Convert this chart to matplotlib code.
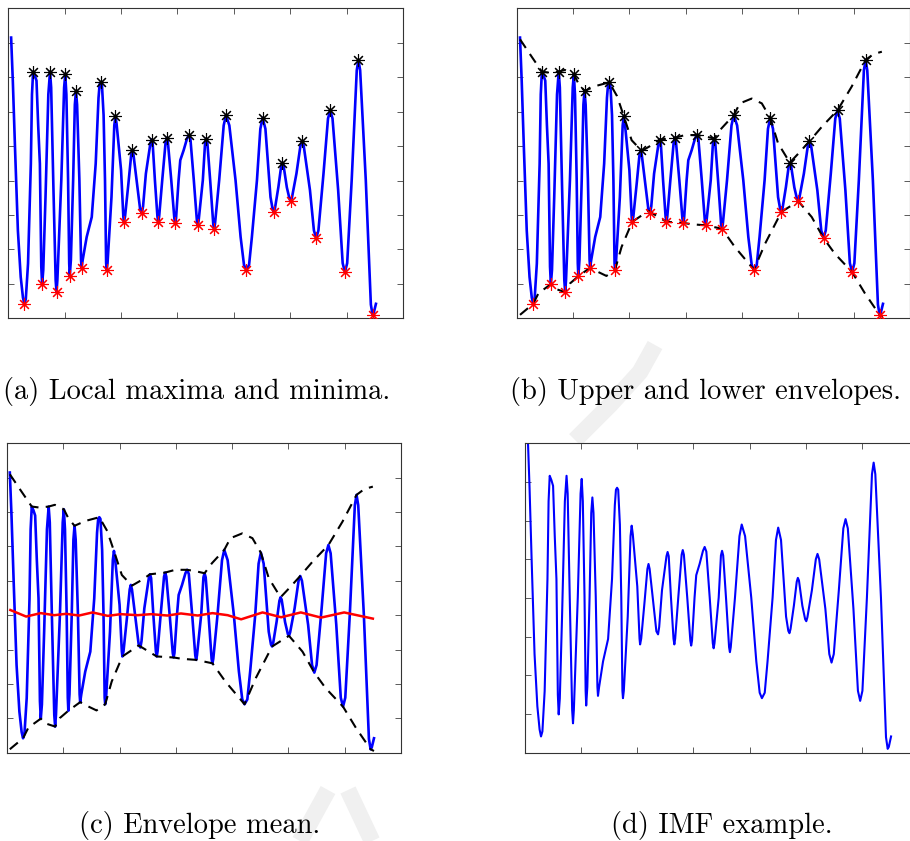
import matplotlib

matplotlib.use("Agg")
import matplotlib.pyplot as plt
from matplotlib.lines import Line2D

# signal samples (x, y)
sig_x = [0.05, 0.08, 0.12, 0.17, 0.22, 0.26, 0.285, 0.31, 0.35, 0.40, 0.42, 0.44, 0.47,
         0.50, 0.53, 0.56, 0.585, 0.60, 0.62, 0.66, 0.71, 0.74, 0.76, 0.80, 0.84, 0.855,
         0.87, 0.94, 0.99, 1.01, 1.03, 1.06, 1.08, 1.09, 1.11, 1.15, 1.18, 1.20, 1.22,
         1.26, 1.29, 1.30, 1.32, 1.39, 1.48, 1.55, 1.60, 1.62, 1.64, 1.66, 1.69, 1.715,
         1.735, 1.745, 1.76, 1.83, 1.88, 1.90, 1.92, 2.00, 2.04, 2.05, 2.07, 2.13, 2.18,
         2.20, 2.22, 2.34, 2.37, 2.39, 2.44, 2.52, 2.54, 2.56, 2.60, 2.645, 2.66, 2.675,
         2.73, 2.79, 2.81, 2.83, 2.89, 2.945, 2.96, 2.975, 3.02, 3.05, 3.11, 3.17, 3.20,
         3.23, 3.29, 3.345, 3.36, 3.375, 3.45, 3.49, 3.51, 3.53, 3.58, 3.635, 3.65, 3.665,
         3.74, 3.82, 3.86, 3.92, 4.03, 4.12, 4.18, 4.22, 4.27, 4.32, 4.41, 4.47, 4.51,
         4.56, 4.65, 4.69, 4.71, 4.73, 4.79, 4.84, 4.86, 4.88, 4.94, 4.99, 5.01, 5.03,
         5.11, 5.18, 5.21, 5.24, 5.35, 5.42, 5.46, 5.50, 5.59, 5.67, 5.71, 5.75, 5.85,
         5.93, 5.97, 6.01, 6.09, 6.18, 6.21, 6.24, 6.34, 6.43, 6.46, 6.48, 6.52]
sig_y = [4.15, 2.90, 0.90, -1.45, -2.80, -3.40, -3.58, -3.45, -2.41, 0.49, 2.50, 3.16, 3.05,
         2.90, 1.60, 0.49, -2.50, -3.01, -2.60, -0.48, 2.50, 3.16, 2.70, -0.20, -2.90, -3.24,
         -2.90, 0.01, 2.70, 3.08, 2.50, 0.05, -2.40, -2.78, -2.30, 0.01, 2.20, 2.60, 2.20,
         0.05, -2.30, -2.53, -2.30, -1.64, -1.06, 0.49, 2.40, 2.80, 2.85, 2.80, 1.90, 0.01,
         -2.40, -2.59, -2.40, -0.48, 1.60, 1.87, 1.65, 0.30, -1.05, -1.20, -1.05, -0.09, 0.75,
         0.88, 0.75, -0.86, -0.94, -0.75, 0.20, 1.08, 1.19, 1.08, 0.01, -1.05, -1.20, -1.05,
         0.01, 1.12, 1.24, 1.12, 0.01, -1.10, -1.23, -1.10, 0.01, 0.59, 0.88, 1.22, 1.32,
         1.20, 0.01, -1.17, -1.30, -1.17, 0.01, 1.10, 1.22, 1.10, 0.01, -1.27, -1.40, -1.27,
         0.01, 1.60, 1.90, 1.60, 0.01, -1.64, -2.45, -2.59, -2.45, -1.64, 0.01, 1.50, 1.82,
         1.50, -0.48, -0.85, -0.91, -0.80, -0.19, 0.42, 0.52, 0.45, -0.20, -0.55, -0.60, -0.50,
         0.20, 1.00, 1.14, 1.00, -0.28, -1.45, -1.67, -1.45, 0.20, 1.80, 2.04, 1.80, -0.28,
         -2.40, -2.66, -2.40, 0.01, 3.20, 3.50, 3.20, 0.01, -3.60, -3.90, -3.85, -3.58]

# local maxima / minima
max_x = [0.44, 0.74, 1.01, 1.20, 1.64, 1.90, 2.20, 2.54, 2.81, 3.20, 3.51, 3.86, 4.51,
         4.86, 5.21, 5.71, 6.21]
max_y = [3.16, 3.16, 3.08, 2.60, 2.85, 1.87, 0.88, 1.19, 1.24, 1.32, 1.22, 1.90, 1.82,
         0.52, 1.14, 2.04, 3.50]
min_x = [0.285, 0.60, 0.855, 1.09, 1.30, 1.745, 2.05, 2.37, 2.66, 2.96, 3.36, 3.65, 4.22,
         4.71, 5.01, 5.46, 5.97, 6.46]
min_y = [-3.58, -3.01, -3.24, -2.78, -2.53, -2.59, -1.20, -0.94, -1.20, -1.23, -1.30,
         -1.40, -2.59, -0.91, -0.60, -1.67, -2.66, -3.90]

# upper / lower envelopes
up_x = [0.05, 0.26, 0.44, 0.58, 0.74, 0.85, 1.01, 1.09, 1.20, 1.39, 1.64, 1.78, 1.90,
        2.04, 2.22, 2.40, 2.54, 2.81, 2.99, 3.20, 3.35, 3.51, 3.64, 3.86, 3.97, 4.18,
        4.36, 4.51, 4.65, 4.86, 5.01, 5.21, 5.43, 5.71, 5.96, 6.21, 6.35, 6.50]
up_y = [4.10, 3.59, 3.16, 3.13, 3.16, 3.21, 3.08, 2.82, 2.60, 2.74, 2.85, 2.45, 1.87,
        1.17, 0.86, 1.03, 1.19, 1.24, 1.32, 1.32, 1.28, 1.22, 1.51, 1.90, 2.24, 2.38,
        2.24, 1.82, 1.08, 0.52, 0.78, 1.14, 1.56, 2.04, 2.72, 3.50, 3.67, 3.74]
lo_x = [0.05, 0.285, 0.38, 0.60, 0.67, 0.855, 0.94, 1.09, 1.30, 1.45, 1.59, 1.745, 1.86,
        2.05, 2.34, 2.66, 2.96, 3.11, 3.36, 3.65, 3.88, 4.22, 4.42, 4.71, 5.01, 5.25,
        5.46, 5.66, 5.97, 6.20, 6.46, 6.52]
lo_y = [-3.90, -3.58, -3.27, -3.01, -3.14, -3.24, -2.99, -2.78, -2.53, -2.66, -2.77,
        -2.59, -1.93, -1.20, -0.88, -1.20, -1.23, -1.27, -1.30, -1.40, -1.93, -2.59,
        -1.83, -0.91, -0.60, -1.06, -1.67, -2.12, -2.66, -3.28, -3.90, -3.95]

# envelope mean
mean_x = [0.06, 0.34, 0.60, 0.84, 1.05, 1.28, 1.52, 1.79, 2.02, 2.32, 2.56, 2.85, 3.09,
          3.39, 3.65, 3.92, 4.16, 4.54, 4.87, 5.22, 5.58, 5.99, 6.50]
mean_y = [0.15, -0.04, 0.06, 0.00, 0.04, -0.01, 0.08, -0.02, 0.03, 0.00, 0.03, -0.01,
          0.05, -0.01, 0.06, 0.00, -0.12, 0.08, -0.06, 0.08, -0.07, 0.08, -0.10]

captions = ["(a) Local maxima and minima.", "(b) Upper and lower envelopes.",
            "(c) Envelope mean.", "(d) IMF example."]

W, H = 910, 841
fig = plt.figure(figsize=(W / 100, H / 100), dpi=100)


def _axes(left, top, right, bottom):
    return fig.add_axes([left / W, 1 - bottom / H, (right - left) / W, (bottom - top) / H])


def _style(ax, ylim):
    ax.set_xlim(0, 7)
    ax.set_ylim(*ylim)
    ax.set_xticks(range(1, 7))
    ax.set_yticks(range(ylim[0] + 1, ylim[1]))
    ax.tick_params(direction="in", top=True, right=True, labelbottom=False,
                   labelleft=False, length=4, width=0.6, color="0.25")
    for s in ax.spines.values():
        s.set_linewidth(0.8)
        s.set_color("0.2")


# faint watermark strokes behind everything (pixel coords)
for xs, ys in [([655, 640, 610, 575], [345, 372, 405, 440]),
               ([300, 328], [841, 790]), ([348, 372], [790, 841])]:
    fig.add_artist(Line2D([x / W for x in xs], [1 - y / H for y in ys], color="#f0f0f0",
                          lw=12, solid_capstyle="butt", zorder=0))

star = (8, 2, 0)
blue = dict(color="#0000ff", lw=1.9, zorder=2)
env = dict(color="k", lw=1.5, ls=(0, (5, 3.5)), zorder=3)
mk = dict(ls="none", marker=star, ms=9, mew=0.8, zorder=4)

ax_a = _axes(8.3, 8.3, 403, 318.3)
ax_a.plot(sig_x, sig_y, **blue)
ax_a.plot(max_x, max_y, color="k", **mk)
ax_a.plot(min_x, min_y, color="r", **mk)
_style(ax_a, (-4, 5))

ax_b = _axes(517.2, 8.3, 909.9, 318.3)
ax_b.plot(sig_x, sig_y, **blue)
ax_b.plot(up_x, up_y, **env)
ax_b.plot(lo_x, lo_y, **env)
ax_b.plot(max_x, max_y, color="k", **mk)
ax_b.plot(min_x, min_y, color="r", **mk)
_style(ax_b, (-4, 5))

ax_c = _axes(7, 443.3, 401, 752.7)
ax_c.plot(sig_x, sig_y, **blue)
ax_c.plot(up_x, up_y, **env)
ax_c.plot(lo_x, lo_y, **env)
ax_c.plot(mean_x, mean_y, color="r", lw=1.8, zorder=4)
_style(ax_c, (-4, 5))

ax_d = _axes(525, 443.3, 918, 752.7)
ax_d.plot(sig_x, sig_y, color="#0000ff", lw=1.5)
_style(ax_d, (-4, 4))

cap = dict(family="cmr10", fontsize=20.5, ha="center", va="center")
fig.text(197 / W, 1 - 392 / H, captions[0], **cap)
fig.text(706 / W, 1 - 392 / H, captions[1], **cap)
fig.text(200 / W, 1 - 826 / H, captions[2], **cap)
fig.text(722 / W, 1 - 826 / H, captions[3], **cap)

fig.savefig("out.png", dpi=100)
plt.close(fig)
